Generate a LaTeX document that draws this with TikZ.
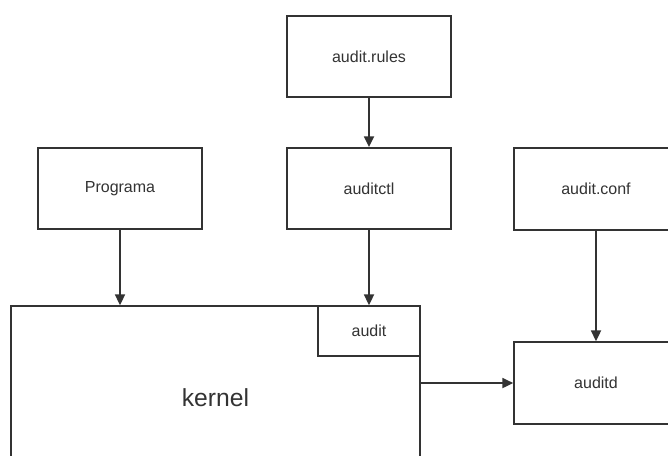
\documentclass[tikz,border=0pt]{standalone}
\usepackage{fontspec}
\setmainfont{Liberation Sans}
\usetikzlibrary{arrows.meta}
\definecolor{ink}{HTML}{333333}
\tikzset{
  px/.style={x=0.75pt,y=-0.75pt},
  box/.style={draw=ink,line width=1.3pt,fill=white,text=ink,inner sep=0pt,
    font=\fontsize{12}{14}\selectfont},
  flow/.style={draw=ink,line width=1.3pt,-{Triangle[length=8pt,width=7.5pt]}}
}
\begin{document}
\begin{tikzpicture}[px]
\useasboundingbox (0,0) rectangle (668,455);
\fill[white] (0,0) rectangle (668,455);
\clip (0,0) rectangle (668,455);
% top row and source boxes
\node[box,minimum width=123pt,minimum height=61pt] (rules) at (369,56.5) {audit.rules};
\node[box,minimum width=123pt,minimum height=61pt] (ctl) at (369,188.5) {auditctl};
\node[box,minimum width=123pt,minimum height=61pt] (prog) at (120,188.5) {Programa};
\node[box,minimum width=123pt,minimum height=61pt] (conf) at (596,189) {audit.conf};
% kernel with its audit subsystem
\node[box,minimum width=306.75pt,minimum height=138pt,font=\fontsize{18.5}{22}\selectfont] (kernel) at (215.5,398) {kernel};
\node[box,minimum width=76.5pt,minimum height=37.5pt] (audit) at (369,331) {audit};
% daemon
\node[box,minimum width=123pt,minimum height=61.5pt] (auditd) at (596,383) {auditd};
% connectors
\draw[flow] (rules.south) -- (ctl.north);
\draw[flow] (ctl.south) -- (audit.north);
\draw[flow] (prog.south) -- (prog.south |- kernel.north);
\draw[flow] (conf.south) -- (auditd.north);
\draw[flow] (kernel.east |- auditd.west) -- (auditd.west);
\end{tikzpicture}
\end{document}
